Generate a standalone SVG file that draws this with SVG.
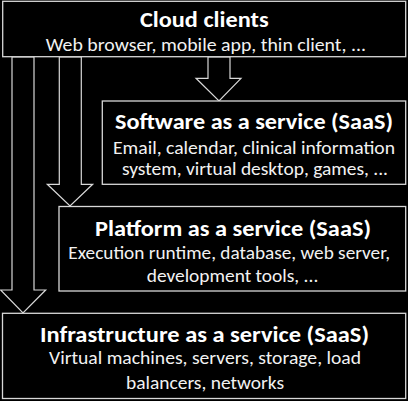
<svg xmlns="http://www.w3.org/2000/svg" width="408" height="401" viewBox="0 0 408 401">
<style>
.box{fill:#000;stroke:#d8d8d8;stroke-width:1.3}
.arr{fill:#000;stroke:#d8d8d8;stroke-width:1.2;stroke-linejoin:miter}
.t{font-family:Carlito,Calibri,Lato,"Open Sans",sans-serif;font-weight:bold;font-size:23px;fill:#fff;text-anchor:middle}
.s{font-family:Carlito,Calibri,Lato,"Open Sans",sans-serif;font-size:18px;fill:#f2f2f2;text-anchor:middle}
</style>
<rect x="0" y="0" width="408" height="401" fill="#000"/>
<g id="connectors">
<polygon class="arr" points="12,57 34,57 34,290 45.7,290 23,313 0.6,290 12,290"/>
<polygon class="arr" points="59.3,57 81.3,57 81.3,184.3 92.7,184.3 70,206 47.3,184.3 59.3,184.3"/>
<polygon class="arr" points="208,57 230,57 230,78.3 241,78.3 219,101 196,78.3 208,78.3"/>
</g>
<g id="cloud-clients">
<rect class="box" x="2.7" y="1.3" width="403" height="55.4"/>
<text class="t" x="204.3" y="27.3" textLength="128.7" lengthAdjust="spacingAndGlyphs">Cloud clients</text>
<text class="s" x="205.8" y="50.7" textLength="320.3" lengthAdjust="spacingAndGlyphs">Web browser, mobile app, thin client, ...</text>
</g>
<g id="saas">
<rect class="box" x="102.3" y="101" width="303.4" height="83.3"/>
<text class="t" x="254" y="129" textLength="278" lengthAdjust="spacingAndGlyphs">Software as a service (SaaS)</text>
<text class="s" x="254" y="154" textLength="282" lengthAdjust="spacingAndGlyphs">Email, calendar, clinical information</text>
<text class="s" x="255" y="174.5" textLength="266" lengthAdjust="spacingAndGlyphs">system, virtual desktop, games, ...</text>
</g>
<g id="paas">
<rect class="box" x="59" y="206.5" width="346.7" height="84.5"/>
<text class="t" x="233" y="235.7" textLength="276" lengthAdjust="spacingAndGlyphs">Platform as a service (SaaS)</text>
<text class="s" x="229.2" y="259" textLength="321.7" lengthAdjust="spacingAndGlyphs">Execution runtime, database, web server,</text>
<text class="s" x="232.5" y="282.3" textLength="171.6" lengthAdjust="spacingAndGlyphs">development tools, ...</text>
</g>
<g id="iaas">
<rect class="box" x="2.5" y="313.3" width="403.2" height="85.2"/>
<text class="t" x="204.5" y="342" textLength="329" lengthAdjust="spacingAndGlyphs">Infrastructure as a service (SaaS)</text>
<text class="s" x="205" y="364" textLength="312" lengthAdjust="spacingAndGlyphs">Virtual machines, servers, storage, load</text>
<text class="s" x="205" y="389" textLength="158" lengthAdjust="spacingAndGlyphs">balancers, networks</text>
</g>
</svg>
